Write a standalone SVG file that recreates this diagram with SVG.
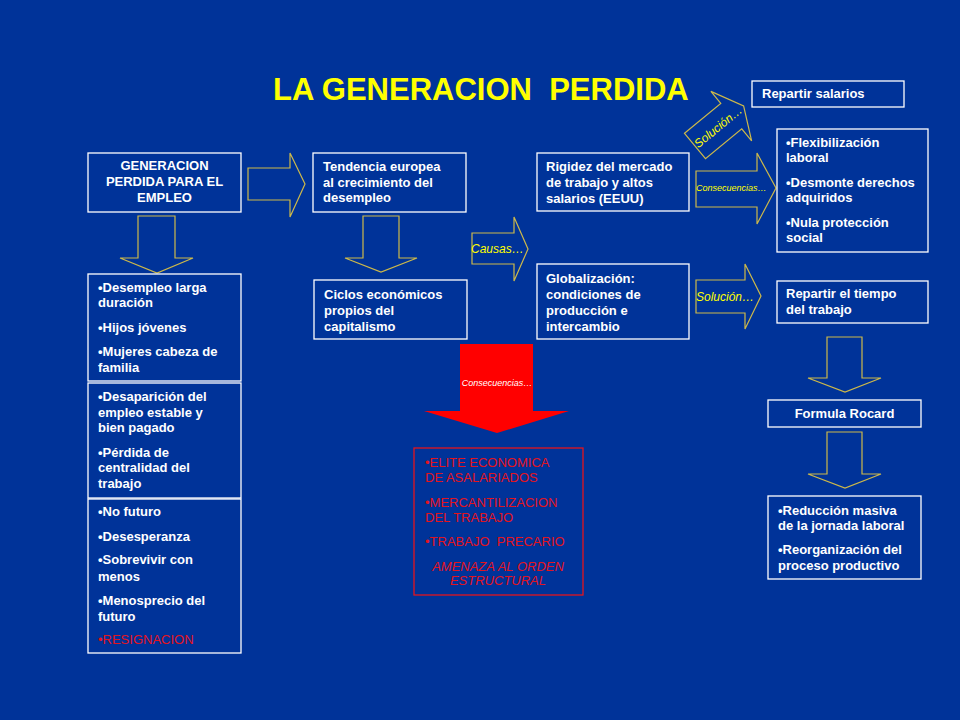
<svg xmlns="http://www.w3.org/2000/svg" width="960" height="720" viewBox="0 0 960 720">
<style>
.bg{fill:#003399}
.box{fill:#003399;stroke:#ffffff;stroke-width:1.3}
.rbox{fill:#003399;stroke:#e3141e;stroke-width:1.3}
.arr{fill:#003399;stroke:#cdb94a;stroke-width:1.2}
.t{font-family:"Liberation Sans",Arial,sans-serif;font-size:13px;font-weight:bold;fill:#ffffff}
.c{text-anchor:middle}
.lbl{font-family:"Liberation Sans",Arial,sans-serif;font-style:italic;fill:#ffff00;font-size:12px}
.sm{font-size:9px}
.rt{font-family:"Liberation Sans",Arial,sans-serif;font-size:13px;fill:#e3141e}
.title{font-family:"Liberation Sans",Arial,sans-serif;font-size:31px;font-weight:bold;fill:#ffff00}
</style>
<rect class="bg" x="0" y="0" width="960" height="720"/>
<text class="title" x="273" y="100" xml:space="preserve">LA GENERACION  PERDIDA</text>

<g id="connectors">
  <polygon class="arr" points="248,168 290,168 290,153 305,184 290,217 290,200 248,200"/>
  <polygon class="arr" points="138,216 175,216 175,258 193,258 157,273 120,258 138,258"/>
  <polygon class="arr" points="363,216 399,216 399,258 417,258 381,272 345,258 363,258"/>
  <g id="arr-causas">
    <polygon class="arr" points="472,233 514,233 514,217 528,249 514,281 514,264 472,264"/>
    <text class="lbl" x="471" y="253">Causas…</text>
  </g>
  <g id="arr-solucion-top" transform="translate(695,146) rotate(-39.5)">
    <polygon class="arr" points="0,-16.5 47,-16.5 47,-32 63,0 47,32 47,16.5 0,16.5"/>
    <text class="lbl" x="1" y="4" font-size="11">Solución…</text>
  </g>
  <g id="arr-consecuencias">
    <polygon class="arr" points="696,171 757,171 757,153 776,188 757,224 757,207 696,207"/>
    <text class="lbl sm" x="696" y="191">Consecuencias…</text>
  </g>
  <g id="arr-solucion">
    <polygon class="arr" points="696,280 745,280 745,264 761,296 745,329 745,313 696,313"/>
    <text class="lbl" x="696" y="301">Solución…</text>
  </g>
  <polygon class="arr" points="827,337 862,337 862,378 881,378 845,392 808,378 827,378"/>
  <polygon class="arr" points="827,432 862,432 862,474 881,474 845,488 808,474 827,474"/>
  <g id="arr-red">
    <polygon fill="#ff0000" points="460,344 533,344 533,411 569,411 497,433 424,411 460,411"/>
    <text x="497" y="386" text-anchor="middle" font-family="Liberation Sans, Arial, sans-serif" font-size="9" font-style="italic" fill="#ffffff">Consecuencias…</text>
  </g>
</g>

<g id="n-generacion">
  <rect class="box" x="88" y="153" width="153" height="59"/>
  <text class="t c" x="164.5" y="170">GENERACION</text>
  <text class="t c" x="164.5" y="186">PERDIDA PARA EL</text>
  <text class="t c" x="164.5" y="202">EMPLEO</text>
</g>
<g id="n-tendencia">
  <rect class="box" x="313" y="153" width="153" height="59"/>
  <text class="t" x="323" y="171">Tendencia europea</text>
  <text class="t" x="323" y="187">al crecimiento del</text>
  <text class="t" x="323" y="202">desempleo</text>
</g>
<g id="n-ciclos">
  <rect class="box" x="314" y="280" width="153" height="59"/>
  <text class="t" x="324" y="299">Ciclos económicos</text>
  <text class="t" x="324" y="315">propios del</text>
  <text class="t" x="324" y="331">capitalismo</text>
</g>
<g id="n-rigidez">
  <rect class="box" x="537" y="153" width="152" height="58"/>
  <text class="t" x="546" y="171">Rigidez del mercado</text>
  <text class="t" x="546" y="187">de trabajo y altos</text>
  <text class="t" x="546" y="203">salarios (EEUU)</text>
</g>
<g id="n-globalizacion">
  <rect class="box" x="537" y="264" width="152" height="75"/>
  <text class="t" x="546" y="283">Globalización:</text>
  <text class="t" x="546" y="299">condiciones de</text>
  <text class="t" x="546" y="315">producción e</text>
  <text class="t" x="546" y="331">intercambio</text>
</g>
<g id="n-repartir-salarios">
  <rect class="box" x="752" y="81" width="152" height="26"/>
  <text class="t" x="762" y="98">Repartir salarios</text>
</g>
<g id="n-flexibilizacion">
  <rect class="box" x="777" y="129" width="151" height="123"/>
  <text class="t" x="786" y="147">•Flexibilización</text>
  <text class="t" x="786" y="162">laboral</text>
  <text class="t" x="786" y="187">•Desmonte derechos</text>
  <text class="t" x="786" y="202">adquiridos</text>
  <text class="t" x="786" y="227">•Nula protección</text>
  <text class="t" x="786" y="242">social</text>
</g>
<g id="n-repartir-tiempo">
  <rect class="box" x="777" y="281" width="151" height="42"/>
  <text class="t" x="786" y="298">Repartir el tiempo</text>
  <text class="t" x="786" y="314">del trabajo</text>
</g>
<g id="n-rocard">
  <rect class="box" x="768" y="400" width="153" height="27"/>
  <text class="t c" x="844.5" y="418">Formula Rocard</text>
</g>
<g id="n-reduccion">
  <rect class="box" x="768" y="496" width="153" height="83"/>
  <text class="t" x="778" y="515">•Reducción masiva</text>
  <text class="t" x="778" y="530">de la jornada laboral</text>
  <text class="t" x="778" y="554">•Reorganización del</text>
  <text class="t" x="778" y="570">proceso productivo</text>
</g>
<g id="n-desempleo">
  <rect class="box" x="88" y="274" width="153" height="107"/>
  <text class="t" x="98" y="292">•Desempleo larga</text>
  <text class="t" x="98" y="307">duración</text>
  <text class="t" x="98" y="332">•Hijos jóvenes</text>
  <text class="t" x="98" y="356">•Mujeres cabeza de</text>
  <text class="t" x="98" y="372">familia</text>
</g>
<g id="n-desaparicion">
  <rect class="box" x="88" y="383" width="153" height="115"/>
  <text class="t" x="98" y="401">•Desaparición del</text>
  <text class="t" x="98" y="417">empleo estable y</text>
  <text class="t" x="98" y="432">bien pagado</text>
  <text class="t" x="98" y="457">•Pérdida de</text>
  <text class="t" x="98" y="472">centralidad del</text>
  <text class="t" x="98" y="488">trabajo</text>
</g>
<g id="n-nofuturo">
  <rect class="box" x="88" y="499" width="153" height="154"/>
  <text class="t" x="98" y="516">•No futuro</text>
  <text class="t" x="98" y="541">•Desesperanza</text>
  <text class="t" x="98" y="564">•Sobrevivir con</text>
  <text class="t" x="98" y="581">menos</text>
  <text class="t" x="98" y="605">•Menosprecio del</text>
  <text class="t" x="98" y="621">futuro</text>
  <text class="rt" x="98" y="644">•RESIGNACION</text>
</g>
<g id="n-elite">
  <rect class="rbox" x="414" y="448" width="169" height="147"/>
  <text class="rt" x="425" y="467">•ELITE ECONOMICA</text>
  <text class="rt" x="425" y="482">DE ASALARIADOS</text>
  <text class="rt" x="425" y="507">•MERCANTILIZACION</text>
  <text class="rt" x="425" y="522">DEL TRABAJO</text>
  <text class="rt" x="425" y="546" xml:space="preserve">•TRABAJO  PRECARIO</text>
  <text class="rt c" x="498" y="571" font-style="italic">AMENAZA AL ORDEN</text>
  <text class="rt c" x="498" y="585" font-style="italic">ESTRUCTURAL</text>
</g>
</svg>
